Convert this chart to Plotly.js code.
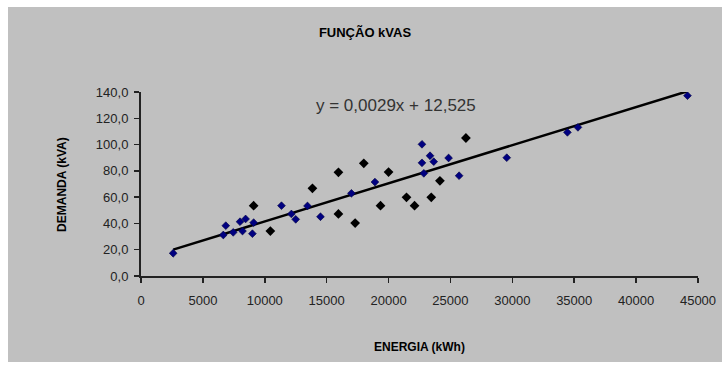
<!DOCTYPE html>
<html>
<head>
<meta charset="utf-8">
<script src="https://cdn.plot.ly/plotly-3.0.1.min.js"></script>
<style>
  html, body { margin: 0; padding: 0; background: #ffffff; width: 725px; height: 369px; overflow: hidden; }
  #chart { position: absolute; left: 8px; top: 7px; width: 714px; height: 355px; }
</style>
</head>
<body>
<div id="chart"></div>
<script>
// Energy (kWh) vs demand (kVA) — navy points
const energiaAzul = [2600, 6650, 6850, 7450, 8000, 8200, 8450, 9000, 9100, 11350, 12150, 12500, 13450, 14500, 17000, 18900, 22700, 22700, 22850, 23350, 23650, 24850, 25700, 29550, 34450, 35300, 44150];
const demandaAzul = [17.3, 31.2, 38.3, 33.2, 41.3, 34.2, 43.4, 32.2, 40.6, 53.5, 47.2, 43.1, 53.3, 45.1, 62.9, 71.5, 100.2, 86.1, 78.1, 91.5, 87.0, 89.8, 76.3, 90.0, 109.3, 113.1, 137.2];
// highlighted black points
const energiaPreto = [9100, 10450, 13850, 15950, 15950, 17300, 18000, 19350, 20000, 21450, 22100, 23450, 24150, 26250];
const demandaPreto = [53.5, 34.2, 66.7, 78.9, 47.2, 40.3, 85.7, 53.5, 79.1, 59.9, 53.5, 59.9, 72.4, 105.0];
// linear trendline from the chart
const inclinacao = 0.0029;
const intercepto = 12.525;
const equacao = "y = 0,0029x + 12,525";
const titulo = "FUNÇÃO kVAS";
const tituloX = "ENERGIA (kWh)";
const tituloY = "DEMANDA (kVA)";

const todosX = energiaAzul.concat(energiaPreto);
const xMin = Math.min(...todosX);
const xMax = Math.max(...todosX);
const tendX = [xMin, xMax];
const tendY = tendX.map(v => inclinacao * v + intercepto);

const traces = [
  {
    x: tendX, y: tendY, type: 'scatter', mode: 'lines',
    line: { color: '#000000', width: 2.5 }, hoverinfo: 'skip', showlegend: false
  },
  {
    x: energiaAzul, y: demandaAzul, type: 'scatter', mode: 'markers',
    marker: { symbol: 'diamond', size: 6, color: '#000080', line: { color: '#000040', width: 0.6 } },
    showlegend: false
  },
  {
    x: energiaPreto, y: demandaPreto, type: 'scatter', mode: 'markers',
    marker: { symbol: 'diamond', size: 7.5, color: '#000000', line: { width: 0 } },
    showlegend: false
  }
];

const fonte = 'Arial, "Liberation Sans", sans-serif';

const layout = {
  width: 714, height: 355,
  paper_bgcolor: '#C0C0C0', plot_bgcolor: '#C0C0C0',
  margin: { l: 133, r: 24, t: 85, b: 86 },
  separators: ',.',
  showlegend: false,
  title: {
    text: '<b>' + titulo + '</b>',
    font: { family: fonte, size: 13, color: '#000000' },
    xref: 'container', x: 0.5, xanchor: 'center',
    yref: 'container', y: 0.927, yanchor: 'middle'
  },
  xaxis: {
    range: [0, 45000], dtick: 5000, tick0: 0,
    tickformat: 'd', exponentformat: 'none',
    showgrid: false, zeroline: false,
    showline: true, linecolor: '#222222', linewidth: 2,
    ticks: 'outside', ticklen: 5, tickwidth: 1.5, tickcolor: '#222222',
    ticklabelstandoff: 6,
    tickfont: { family: fonte, size: 13, color: '#222222' },
    fixedrange: true
  },
  yaxis: {
    range: [0, 140], dtick: 20, tick0: 0,
    tickformat: '.1f',
    showgrid: false, zeroline: false,
    showline: true, linecolor: '#222222', linewidth: 2,
    ticks: 'outside', ticklen: 5, tickwidth: 1.5, tickcolor: '#222222',
    ticklabelstandoff: 3,
    tickfont: { family: fonte, size: 13, color: '#222222' },
    fixedrange: true
  },
  annotations: [
    {
      text: equacao, xref: 'paper', yref: 'paper', x: 0.458, y: 0.929,
      xanchor: 'center', yanchor: 'middle', showarrow: false,
      font: { family: fonte, size: 17, color: '#333333' }
    },
    {
      text: '<b>' + tituloX + '</b>', xref: 'paper', yref: 'paper', x: 0.5, y: -0.386,
      xanchor: 'center', yanchor: 'middle', showarrow: false,
      font: { family: fonte, size: 12, color: '#000000' }
    },
    {
      text: '<b>' + tituloY + '</b>', xref: 'paper', yref: 'paper', x: -0.142, y: 0.5,
      xanchor: 'center', yanchor: 'middle', showarrow: false, textangle: -90,
      font: { family: fonte, size: 12, color: '#000000' }
    }
  ]
};

Plotly.newPlot('chart', traces, layout, { displayModeBar: false, staticPlot: true });
</script>
</body>
</html>
